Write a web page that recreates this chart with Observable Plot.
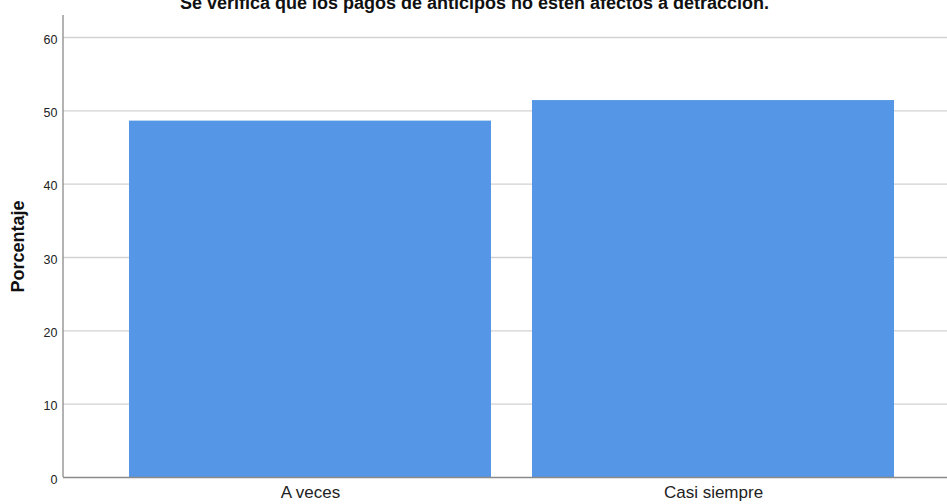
<!DOCTYPE html>
<html>
<head>
<meta charset="utf-8">
<script src="https://cdn.jsdelivr.net/npm/d3@7"></script>
<script src="https://cdn.jsdelivr.net/npm/@observablehq/plot@0.6"></script>
<style>
  html, body { margin: 0; padding: 0; background: #fff; }
  #chart svg { display: block; }
</style>
</head>
<body>
<div id="chart"></div>
<script>
const categories = ["A veces", "Casi siempre"];
const percentages = [48.6, 51.4];
const yTicks = [0, 10, 20, 30, 40, 50, 60];
const title = "Se verifica que los pagos de anticipos no estén afectos a detracción.";
const yLabel = "Porcentaje";

const data = categories.map((c, i) => ({category: c, value: percentages[i]}));

// left axis line drawn at the frame's left edge
function leftAxisLine(index, scales, values, dimensions) {
  const {marginLeft, marginTop, height, marginBottom} = dimensions;
  const line = document.createElementNS("http://www.w3.org/2000/svg", "line");
  line.setAttribute("x1", marginLeft);
  line.setAttribute("x2", marginLeft);
  line.setAttribute("y1", marginTop);
  line.setAttribute("y2", height - marginBottom);
  line.setAttribute("stroke", "#8a8a8a");
  line.setAttribute("stroke-width", 1.3);
  return line;
}

const chart = Plot.plot({
  width: 947,
  height: 504,
  marginTop: 15,
  marginBottom: 27,
  marginLeft: 63,
  marginRight: 0,
  style: {fontFamily: "Liberation Sans, Arial, sans-serif", background: "#fff"},
  x: {domain: categories, paddingInner: 0.1015, paddingOuter: 0.145, align: 0.556, label: null},
  y: {domain: [0, 63], label: null},
  marks: [
    Plot.ruleY(yTicks.filter(d => d > 0), {stroke: "#d2d2d2", strokeWidth: 1.3}),
    Plot.barY(data, {x: "category", y: "value", fill: "#5596e6"}),
    Plot.ruleY([0], {stroke: "#8a8a8a", strokeWidth: 1.3}),
    leftAxisLine,
    Plot.axisY({ticks: yTicks, tickSize: 0, tickPadding: 6, dy: 2, fontSize: 12.5, fill: "#222", label: null}),
    Plot.axisX({tickSize: 0, tickPadding: 8, fontSize: 17, fill: "#222", label: null}),
    Plot.text([yLabel], {frameAnchor: "left", textAnchor: "middle", dx: -45, rotate: -90, fontSize: 18, fontWeight: "bold", fill: "#111"}),
    Plot.text([title], {frameAnchor: "top", dx: -31, dy: -7, lineAnchor: "bottom", fontSize: 18, fontWeight: "bold", fill: "#111"})
  ]
});
document.getElementById("chart").appendChild(chart);
</script>
</body>
</html>
